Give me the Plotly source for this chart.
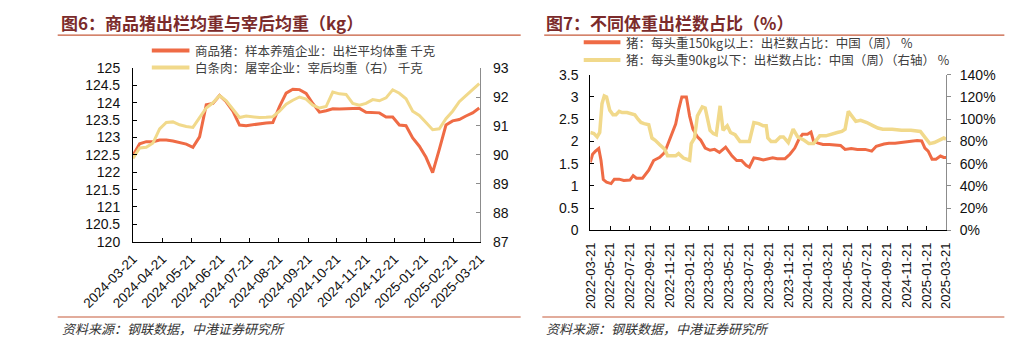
import plotly.graph_objects as go
import pandas as pd

# ---------------- Left chart (图6) ----------------
left_start = "2024-03-21"
hog_weight = [122.49, 122.82, 122.88, 122.88, 122.93, 122.93, 122.90, 122.86, 122.81, 122.72,
              123.02, 123.94, 123.98, 124.21, 124.03, 123.76, 123.36, 123.34, 123.37, 123.40,
              123.42, 123.43, 123.89, 124.28, 124.39, 124.38, 124.27, 123.98, 123.73, 123.77,
              123.83, 123.82, 123.82, 123.82, 123.84, 123.73, 123.72, 123.71, 123.59, 123.59,
              123.36, 123.34, 122.99, 122.75, 122.43, 121.99, 122.66, 123.36, 123.48, 123.52,
              123.62, 123.71, 123.85]
carcass_weight = [89.88, 90.24, 90.26, 90.41, 90.90, 91.12, 91.14, 91.04, 90.98, 90.95,
                  91.29, 91.62, 91.80, 92.05, 91.87, 91.58, 91.29, 91.34, 91.32, 91.29,
                  91.30, 91.32, 91.51, 91.75, 91.89, 92.00, 91.93, 91.72, 91.62, 91.67,
                  92.17, 92.11, 92.09, 91.78, 91.72, 91.78, 91.91, 91.87, 91.97, 92.25,
                  92.13, 91.94, 91.51, 91.36, 91.12, 90.87, 90.90, 91.25, 91.51, 91.84,
                  92.05, 92.27, 92.46]
left_dates = pd.date_range(left_start, periods=len(hog_weight), freq="7D")
left_ticks = ["2024-03-21", "2024-04-21", "2024-05-21", "2024-06-21", "2024-07-21",
              "2024-08-21", "2024-09-21", "2024-10-21", "2024-11-21", "2024-12-21",
              "2025-01-21", "2025-02-21", "2025-03-21"]

# ---------------- Right chart (图7) ----------------
heavy_dates = ["2022-03-21", "2022-03-28", "2022-04-06", "2022-04-16", "2022-04-23", "2022-04-30",
               "2022-05-10", "2022-05-24", "2022-06-03", "2022-06-18", "2022-07-02", "2022-07-21",
               "2022-07-31", "2022-08-10", "2022-08-29", "2022-09-08", "2022-09-17", "2022-10-02",
               "2022-10-21", "2022-11-05", "2022-11-14", "2022-11-29", "2022-12-09", "2022-12-18",
               "2022-12-28", "2023-01-11", "2023-01-21", "2023-01-31", "2023-02-14", "2023-02-24",
               "2023-03-10", "2023-03-25", "2023-04-08", "2023-04-23", "2023-05-12", "2023-06-01",
               "2023-06-15", "2023-06-30", "2023-07-14", "2023-07-24", "2023-08-07", "2023-08-22",
               "2023-09-05", "2023-10-04", "2023-10-18", "2023-11-11", "2023-11-26", "2023-12-11",
               "2023-12-25", "2024-01-04", "2024-01-19", "2024-01-30", "2024-02-07", "2024-02-21",
               "2024-03-07", "2024-03-26", "2024-04-30", "2024-05-14", "2024-06-02", "2024-06-21",
               "2024-07-15", "2024-08-04", "2024-08-18", "2024-09-11", "2024-09-26", "2024-10-15",
               "2024-11-04", "2024-12-03", "2024-12-22", "2025-01-05", "2025-01-15", "2025-01-25",
               "2025-02-06", "2025-02-18", "2025-03-04", "2025-03-14", "2025-03-21"]
heavy_share = [1.53, 1.71, 1.78, 1.84, 1.57, 1.14, 1.08, 1.05, 1.15, 1.15,
               1.12, 1.13, 1.23, 1.17, 1.17, 1.28, 1.35, 1.57, 1.64, 1.75,
               1.93, 2.21, 2.39, 2.71, 3.00, 3.00, 2.57, 2.28, 2.10, 2.03,
               1.85, 1.80, 1.82, 1.75, 1.87, 1.67, 1.57, 1.57, 1.46, 1.42,
               1.63, 1.61, 1.58, 1.63, 1.61, 1.61, 1.71, 1.85, 2.07, 2.16,
               2.16, 2.21, 2.00, 1.96, 1.93, 1.93, 1.91, 1.82, 1.84, 1.82,
               1.82, 1.78, 1.89, 1.94, 1.96, 1.96, 1.98, 2.00, 2.02, 2.01,
               1.85, 1.78, 1.60, 1.60, 1.67, 1.64, 1.64]

light_dates = ["2022-03-21", "2022-04-01", "2022-04-11", "2022-04-19", "2022-04-26", "2022-05-03",
               "2022-05-10", "2022-05-20", "2022-05-30", "2022-06-08", "2022-06-18", "2022-06-27",
               "2022-07-12", "2022-07-21", "2022-08-05", "2022-08-15", "2022-08-24", "2022-09-03",
               "2022-09-17", "2022-09-27", "2022-10-07", "2022-10-21", "2022-11-05", "2022-11-14",
               "2022-12-09", "2022-12-18", "2023-01-02", "2023-01-21", "2023-01-26", "2023-02-05",
               "2023-02-14", "2023-03-01", "2023-03-10", "2023-03-25", "2023-04-04", "2023-04-13",
               "2023-04-25", "2023-05-04", "2023-05-17", "2023-05-27", "2023-06-10", "2023-06-25",
               "2023-07-24", "2023-08-07", "2023-08-22", "2023-09-05", "2023-09-14", "2023-09-19",
               "2023-09-29", "2023-10-13", "2023-10-27", "2023-11-06", "2023-11-21", "2023-12-06",
               "2023-12-20", "2024-01-09", "2024-01-23", "2024-02-07", "2024-02-26", "2024-03-16",
               "2024-04-05", "2024-04-20", "2024-05-04", "2024-05-14", "2024-05-24", "2024-06-02",
               "2024-06-16", "2024-07-01", "2024-07-20", "2024-08-09", "2024-08-23", "2024-09-07",
               "2024-10-06", "2024-11-04", "2024-12-03", "2025-01-01", "2025-01-15", "2025-01-30",
               "2025-02-13", "2025-02-28", "2025-03-14", "2025-03-21"]
light_share = [88, 87, 84, 88, 114, 121, 120, 108, 104, 104,
               107, 106, 106, 105, 104, 100, 97, 96, 95, 83,
               81, 77, 73, 67, 67, 69, 65, 63, 78, 83,
               103, 111, 110, 90, 87, 86, 112, 90, 94, 88,
               86, 80, 80, 97, 96, 94, 94, 83, 80, 80,
               84, 84, 79, 91, 84, 81, 78, 78, 85, 85,
               87, 88, 89, 91, 107, 103, 98, 99, 97, 94,
               92, 91, 91, 90, 90, 89, 84, 78, 79, 81,
               83, 82]
right_ticks = ["2022-03-21", "2022-05-21", "2022-07-21", "2022-09-21", "2022-11-21",
               "2023-01-21", "2023-03-21", "2023-05-21", "2023-07-21", "2023-09-21",
               "2023-11-21", "2024-01-21", "2024-03-21", "2024-05-21", "2024-07-21",
               "2024-09-21", "2024-11-21", "2025-01-21", "2025-03-21"]

RED = "#EF6B45"
YEL = "#F1D98B"
W, H = 1017, 346
TICKFONT = dict(family="Liberation Sans, Arial, sans-serif", size=14, color="#111111")
CJK = "Noto Sans CJK SC, sans-serif"


def px_x(x):
    return x / W


def px_y(y):
    return 1 - y / H


fig = go.Figure()
fig.add_trace(go.Scatter(x=left_dates, y=hog_weight, mode="lines", name="商品猪：样本养殖企业：出栏平均体重 千克",
                         line=dict(color=RED, width=3), xaxis="x", yaxis="y", showlegend=False))
fig.add_trace(go.Scatter(x=left_dates, y=carcass_weight, mode="lines", name="白条肉：屠宰企业：宰后均重（右） 千克",
                         line=dict(color=YEL, width=3), xaxis="x", yaxis="y2", showlegend=False))
fig.add_trace(go.Scatter(x=heavy_dates, y=heavy_share, mode="lines", name="猪：每头重150kg以上：出栏数占比：中国（周） %",
                         line=dict(color=RED, width=3), xaxis="x2", yaxis="y3", showlegend=False))
fig.add_trace(go.Scatter(x=light_dates, y=light_share, mode="lines", name="猪：每头重90kg以下：出栏数占比：中国（周）（右轴） %",
                         line=dict(color=YEL, width=3.5), xaxis="x2", yaxis="y4", showlegend=False))

axis_common = dict(showgrid=False, zeroline=False, showline=True, linewidth=1, tickfont=TICKFONT,
                   ticks="inside", ticklen=4, tickwidth=1)

fig.update_layout(
    width=W, height=H, autosize=False,
    margin=dict(l=0, r=0, t=0, b=0),
    paper_bgcolor="white", plot_bgcolor="white",
    xaxis=dict(axis_common, domain=[px_x(85), px_x(454)], anchor="y", type="date",
               range=["2024-03-21", "2025-03-21"], tickvals=left_ticks, ticktext=left_ticks,
               tickangle=-45, linecolor="#000000", tickcolor="#000000", ticklabelstandoff=3,
               tickfont=dict(TICKFONT, size=13.5)),
    yaxis=dict(axis_common, domain=[px_y(245), px_y(63)], anchor="x", range=[120, 125], dtick=0.5,
               tick0=120, linecolor="#000000", tickcolor="#000000", ticklabelstandoff=9),
    yaxis2=dict(axis_common, overlaying="y", side="right", anchor="x", range=[87, 93], dtick=1,
                tick0=87, linecolor="#8C8C8C", tickcolor="#8C8C8C", ticklabelstandoff=9),
    xaxis2=dict(axis_common, domain=[px_x(571), px_x(949)], anchor="y3", type="date",
                range=["2022-03-21", "2025-03-21"], tickvals=right_ticks, ticktext=right_ticks,
                tickangle=-90, linecolor="#000000", tickcolor="#000000", ticklabelstandoff=6,
                tickfont=dict(TICKFONT, size=13)),
    yaxis3=dict(axis_common, domain=[px_y(233), px_y(70)], anchor="x2", range=[0, 3.5], dtick=0.5,
                tick0=0, linecolor="#000000", tickcolor="#000000", ticklabelstandoff=8),
    yaxis4=dict(axis_common, overlaying="y3", side="right", anchor="x2", range=[0, 140], dtick=20,
                tick0=0, ticksuffix="%", linecolor="#8C8C8C", tickcolor="#8C8C8C",
                ticks="outside", ticklabelstandoff=6),
)

TITLE_COLOR = "#7B2B2B"
RULE_COLOR = "#C65A3A"
shapes = []
annos = []
# Titles
annos.append(dict(text="<b>图6：商品猪出栏均重与宰后均重（kg）</b>", x=px_x(6), y=px_y(15), xref="paper", yref="paper",
                  xanchor="left", yanchor="middle", showarrow=False,
                  font=dict(family=CJK, size=17, color=TITLE_COLOR)))
annos.append(dict(text="<b>图7：不同体重出栏数占比（%）</b>", x=px_x(522), y=px_y(15), xref="paper", yref="paper",
                  xanchor="left", yanchor="middle", showarrow=False,
                  font=dict(family=CJK, size=17, color=TITLE_COLOR)))
# Rules
for x0, x1, y in [(5, 497, 28.5), (522, 1011, 28.5), (5, 497, 324), (520, 1011, 324)]:
    shapes.append(dict(type="line", xref="paper", yref="paper", x0=px_x(x0), x1=px_x(x1),
                       y0=px_y(y), y1=px_y(y), line=dict(color=RULE_COLOR, width=1.2)))
# Sources
for x0 in (7, 522):
    annos.append(dict(text="<i>资料来源：钢联数据，中港证券研究所</i>", x=px_x(x0), y=px_y(336), xref="paper",
                      yref="paper", xanchor="left", yanchor="middle", showarrow=False,
                      font=dict(family=CJK, size=13, color="#333333")))
# Legends
legend_rows = [
    (105, 145, 44.5, RED, "商品猪：样本养殖企业：出栏平均体重 千克"),
    (105, 145, 62.5, YEL, "白条肉：屠宰企业：宰后均重（右） 千克"),
    (564, 603, 36, RED, "猪：每头重150kg以上：出栏数占比：中国（周） %"),
    (564, 603, 54.5, YEL, "猪：每头重90kg以下：出栏数占比：中国（周）（右轴） %"),
]
for x0, x1, y, col, txt in legend_rows:
    shapes.append(dict(type="line", xref="paper", yref="paper", x0=px_x(x0), x1=px_x(x1),
                       y0=px_y(y), y1=px_y(y), line=dict(color=col, width=4)))
    annos.append(dict(text=txt, x=px_x(x1 + 4), y=px_y(y), xref="paper", yref="paper",
                      xanchor="left", yanchor="middle", showarrow=False,
                      font=dict(family=CJK, size=12.5, color="#404040")))

fig.update_layout(shapes=shapes, annotations=annos)
fig.write_html("out.html", config={"displayModeBar": False})
